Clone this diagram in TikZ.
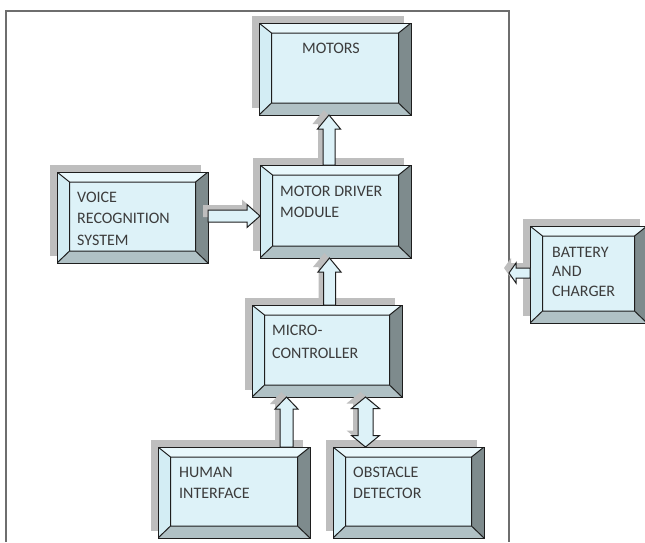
\documentclass[tikz,border=0pt]{standalone}
\usepackage{fontspec}
\setmainfont{Carlito}
\usetikzlibrary{calc,shadows}
\definecolor{facec}{HTML}{DDF2F8}
\definecolor{topc}{HTML}{E9F8FC}
\definecolor{leftc}{HTML}{D3EDF4}
\definecolor{rightc}{HTML}{7E8B8D}
\definecolor{botc}{HTML}{B0C1C5}
\definecolor{shadowc}{HTML}{BEBEBE}
\definecolor{textc}{HTML}{3C3C3C}
\definecolor{framec}{HTML}{6E6E6E}
\definecolor{linec}{HTML}{1E1E1E}
\tikzset{
  asize/.code args={#1/#2/#3}{\def\sw{#1pt}\def\hw{#2pt}\def\hl{#3pt}},
  bevelbox/.style 2 args={draw=linec, line width=1pt, fill=facec, inner sep=0pt, outer sep=0pt,
    minimum width=#1pt, minimum height=#2pt,
    general shadow={fill=shadowc, shadow xshift=-7pt, shadow yshift=7pt},
    path picture={
      \coordinate (pA) at (path picture bounding box.north west);
      \coordinate (pB) at (path picture bounding box.north east);
      \coordinate (pC) at (path picture bounding box.south east);
      \coordinate (pD) at (path picture bounding box.south west);
      \coordinate (pa) at ([shift={(12.5pt,-10pt)}]pA);
      \coordinate (pb) at ([shift={(-12.5pt,-10pt)}]pB);
      \coordinate (pc) at ([shift={(-12.5pt,12pt)}]pC);
      \coordinate (pd) at ([shift={(12.5pt,12pt)}]pD);
      \path[fill=topc, draw=none] (pA) -- (pB) -- (pb) -- (pa) -- cycle;
      \path[fill=rightc, draw=none] (pB) -- (pC) -- (pc) -- (pb) -- cycle;
      \path[fill=botc, draw=none] (pC) -- (pD) -- (pd) -- (pc) -- cycle;
      \path[fill=leftc, draw=none] (pD) -- (pA) -- (pa) -- (pd) -- cycle;
      \path[draw=linec, line width=1pt] (pa) -- (pb) -- (pc) -- (pd) -- cycle
        (pA) -- (pa) (pB) -- (pb) (pC) -- (pc) (pD) -- (pd);
    }},
  lbl/.style={anchor=north west, inner sep=0pt, align=left, text=textc,
    font=\fontsize{16pt}{21.5pt}\selectfont},
  barrow/.style={draw=linec, line width=1pt, fill=facec, line join=miter,
    preaction={fill=shadowc, draw=none, transform canvas={xshift=-5pt,yshift=5pt}}},
  blockup/.style={barrow, to path={let \p1=(\tikztostart), \p2=(\tikztotarget) in
    (\x1-\sw,\y1) -- (\x1-\sw,\y2-\hl) -- (\x1-\hw,\y2-\hl) -- (\x1,\y2) --
    (\x1+\hw,\y2-\hl) -- (\x1+\sw,\y2-\hl) -- (\x1+\sw,\y1) -- cycle}},
  blockupdown/.style={barrow, to path={let \p1=(\tikztostart), \p2=(\tikztotarget) in
    (\x1,\y1) -- (\x1-\hw,\y1+\hl) -- (\x1-\sw,\y1+\hl) -- (\x1-\sw,\y2-\hl) --
    (\x1-\hw,\y2-\hl) -- (\x1,\y2) -- (\x1+\hw,\y2-\hl) -- (\x1+\sw,\y2-\hl) --
    (\x1+\sw,\y1+\hl) -- (\x1+\hw,\y1+\hl) -- cycle}},
  blockright/.style={barrow, to path={let \p1=(\tikztostart), \p2=(\tikztotarget) in
    (\x1,\y1+\sw) -- (\x2-\hl,\y1+\sw) -- (\x2-\hl,\y1+\hw) -- (\x2,\y1) --
    (\x2-\hl,\y1-\hw) -- (\x2-\hl,\y1-\sw) -- (\x1,\y1-\sw) -- cycle}},
  blockleft/.style={barrow, to path={let \p1=(\tikztostart), \p2=(\tikztotarget) in
    (\x1,\y1+\sw) -- (\x2+\hl,\y1+\sw) -- (\x2+\hl,\y1+\hw) -- (\x2,\y1) --
    (\x2+\hl,\y1-\hw) -- (\x2+\hl,\y1-\sw) -- (\x1,\y1-\sw) -- cycle}},
}
\begin{document}
\begin{tikzpicture}[x=1pt,y=-1pt]
\useasboundingbox (0,0) rectangle (645,542);
\clip (0,0) rectangle (645,542);
\fill[white] (0,0) rectangle (645,542);
% frame
\draw[framec, line width=2pt, line join=miter] (6,542) -- (6,11) -- (509,11) -- (509,542);
\coordinate (frR) at (509,273);
% boxes
\node[bevelbox={152}{92}] (mot) at (335,69) {};
\node[bevelbox={151}{91}] (voice) at (132.5,217.5) {};
\node[bevelbox={151}{93}] (mdr) at (335.5,211.5) {};
\node[bevelbox={117}{97}] (bat) at (588.5,274.5) {};
\node[bevelbox={150}{92}] (mic) at (327,351) {};
\node[bevelbox={152}{91}] (hum) at (234,492.5) {};
\node[bevelbox={151}{91}] (obs) at (408.5,492.5) {};
% labels
\node[lbl] (motT) at ([shift={(43pt,-19.8pt)}]mot.north west) {MOTORS};
\node[lbl] (voiceT) at ([shift={(20pt,-19.8pt)}]voice.north west) {VOICE\\RECOGNITION\\SYSTEM};
\node[lbl] (mdrT) at ([shift={(20pt,-20.8pt)}]mdr.north west) {MOTOR DRIVER\\MODULE};
\node[lbl, font=\fontsize{16pt}{19.5pt}\selectfont] (batT) at ([shift={(22pt,-20.8pt)}]bat.north west) {BATTERY\\AND\\CHARGER};
\node[lbl, font=\fontsize{16pt}{23pt}\selectfont] (micT) at ([shift={(20pt,-19.8pt)}]mic.north west) {MICRO-\\CONTROLLER};
\node[lbl] (humT) at ([shift={(21pt,-19.8pt)}]hum.north west) {HUMAN\\INTERFACE};
\node[lbl] (obsT) at ([shift={(20pt,-19.8pt)}]obs.north west) {OBSTACLE\\DETECTOR};
% arrows
\draw[blockup, asize=6/11.5/14] ([xshift=-6.5pt]mdr.north) to (mot.south);
\draw[blockup, asize=6/11.5/14] ([xshift=2.5pt]mic.north) to (mdr.south);
\draw[blockup, asize=6.5/11.5/12] ([xshift=52.5pt]hum.north) to (mic.south);
\draw[blockupdown, asize=7.5/14/11.5] ([xshift=-43pt]obs.north) to (mic.south);
\draw[blockright, asize=6/11.5/13] ([yshift=1.5pt]voice.east) to (mdr.west);
\draw[blockleft, asize=5/10/7] ([yshift=1.5pt]bat.west) to (frR);
\end{tikzpicture}
\end{document}
